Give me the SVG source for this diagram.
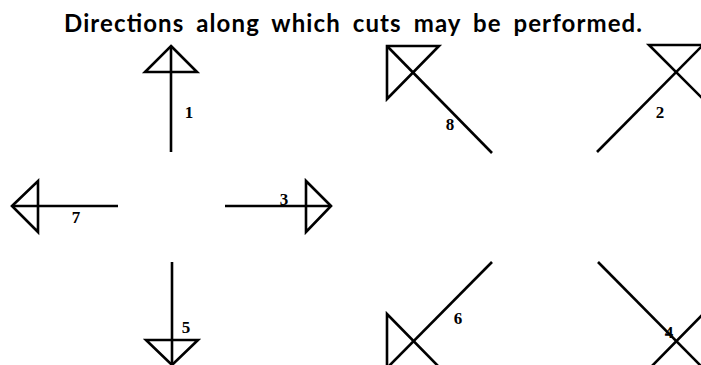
<svg xmlns="http://www.w3.org/2000/svg" width="701" height="365" viewBox="0 0 701 365">
<style>
.ln{fill:none;stroke:#000;stroke-width:2.6;stroke-linejoin:miter;stroke-linecap:butt}
.lb{font-family:"Liberation Serif",serif;font-weight:bold;font-size:17px;fill:#000;text-anchor:middle}
.tt{font-family:Lato,"Liberation Sans",sans-serif;font-weight:bold;font-size:24px;fill:#000;word-spacing:5px}
</style>
<rect width="701" height="365" fill="#fff"/>
<text class="tt" x="64" y="32" textLength="578" lengthAdjust="spacing">Directions along which cuts may be performed.</text>
<g id="connectors">
<line class="ln" x1="171" y1="46" x2="171" y2="152"/>
<line class="ln" x1="387" y1="46" x2="492" y2="153"/>
<line class="ln" x1="597" y1="152" x2="703" y2="45"/>
<line class="ln" x1="12" y1="206" x2="118" y2="206"/>
<line class="ln" x1="225" y1="206" x2="331" y2="206"/>
<line class="ln" x1="172" y1="262" x2="172" y2="365"/>
<line class="ln" x1="492" y1="262" x2="387" y2="368"/>
<line class="ln" x1="598" y1="262" x2="703" y2="368"/>
</g>
<g id="arrow1"><polygon class="ln" points="171,46 197,72 145,72"/><text class="lb" x="189" y="118">1</text></g>
<g id="arrow8"><polygon class="ln" points="387,46 439,46 387,99"/><text class="lb" x="450" y="130">8</text></g>
<g id="arrow2"><polygon class="ln" points="703,45 649,45 703,99"/><text class="lb" x="660" y="118">2</text></g>
<g id="arrow7"><polygon class="ln" points="12,206 38,181 38,232"/><text class="lb" x="76" y="223">7</text></g>
<g id="arrow3"><polygon class="ln" points="331,206 306,181 306,232"/><text class="lb" x="284" y="205">3</text></g>
<g id="arrow5"><polygon class="ln" points="172,365 146,340 198,340"/><text class="lb" x="186" y="333">5</text></g>
<g id="arrow6"><polygon class="ln" points="387,368 387,314 440,368"/><text class="lb" x="458" y="324">6</text></g>
<g id="arrow4"><polygon class="ln" points="703,368 703,314 650,368"/><text class="lb" x="669" y="338">4</text></g>
</svg>
